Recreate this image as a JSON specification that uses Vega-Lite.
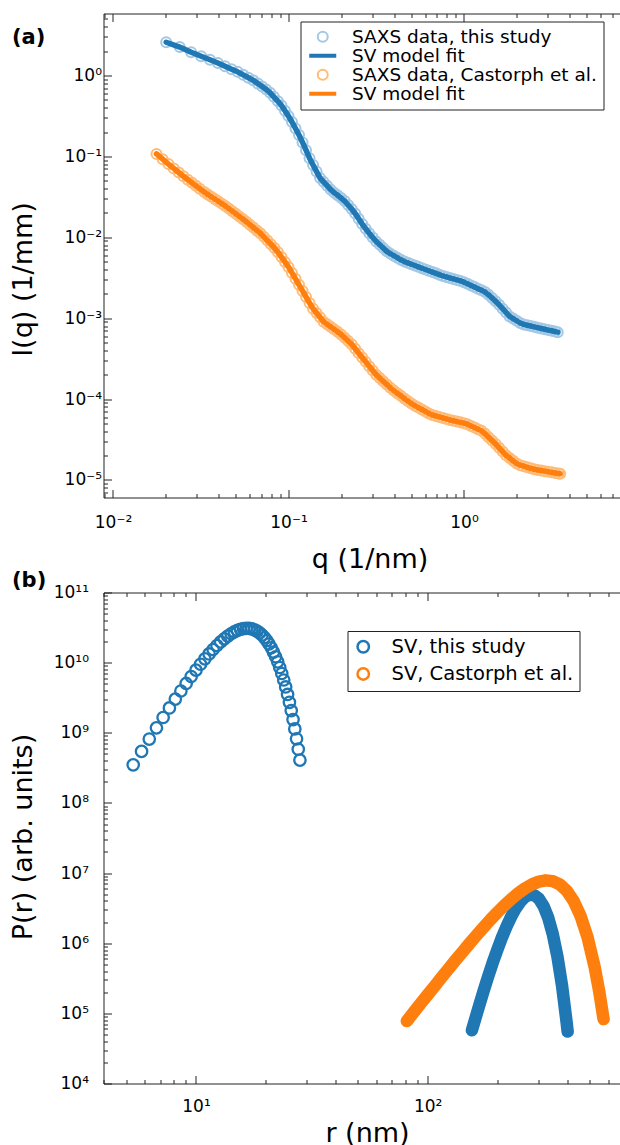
{
"$schema": "https://vega.github.io/schema/vega-lite/v6.json",
"background": "white",
"padding": {"left": 9.5, "top": 9.5, "right": 0, "bottom": 0},
"config": {
 "font": "DejaVu Sans",
 "view": {"stroke": null},
 "axis": {"labelFont": "DejaVu Sans", "titleFont": "DejaVu Sans", "labelFontSize": 17, "titleFontSize": 27, "titleFontWeight": "normal", "labelColor": "#000", "titleColor": "#000", "domainColor": "#222", "tickColor": "#222", "grid": false, "labelOverlap": false, "labelFlush": false, "labelBound": false, "tickWidth": 1, "domainWidth": 1},
 "legend": {"labelFont": "DejaVu Sans", "labelColor": "#000", "labelLimit": 400}
},
"datasets": {
 "saxs": [
  {"s":"b","q":0.0201,"I":2.576},{"s":"b","q":0.0240,"I":2.244},{"s":"b","q":0.0279,"I":1.935},{"s":"b","q":0.0318,"I":1.728},{"s":"b","q":0.0357,"I":1.565},{"s":"b","q":0.0396,"I":1.424},{"s":"b","q":0.0435,"I":1.300},{"s":"b","q":0.0474,"I":1.198},{"s":"b","q":0.0513,"I":1.110},{"s":"b","q":0.0552,"I":1.019},{"s":"b","q":0.0591,"I":0.9408},{"s":"b","q":0.0630,"I":0.8710},{"s":"b","q":0.0669,"I":0.7947},{"s":"b","q":0.0708,"I":0.7291},{"s":"b","q":0.0747,"I":0.6720},{"s":"b","q":0.0786,"I":0.6107},{"s":"b","q":0.0825,"I":0.5446},
  {"s":"b","q":0.08710,"I":0.4797},{"s":"b","q":0.09120,"I":0.4247},{"s":"b","q":0.09550,"I":0.3657},{"s":"b","q":0.1000,"I":0.3148},{"s":"b","q":0.10471,"I":0.2661},{"s":"b","q":0.10965,"I":0.2214},{"s":"b","q":0.11482,"I":0.1841},{"s":"b","q":0.12023,"I":0.1490},{"s":"b","q":0.12589,"I":0.1192},{"s":"b","q":0.13183,"I":0.09507},{"s":"b","q":0.13804,"I":0.07818},{"s":"b","q":0.14454,"I":0.06488},{"s":"b","q":0.15136,"I":0.05397},{"s":"b","q":0.15849,"I":0.04843},{"s":"b","q":0.16596,"I":0.04346},{"s":"b","q":0.17378,"I":0.03892},{"s":"b","q":0.18197,"I":0.03565},{"s":"b","q":0.19055,"I":0.03304},{"s":"b","q":0.19953,"I":0.03056},{"s":"b","q":0.20893,"I":0.02806},{"s":"b","q":0.21878,"I":0.02506},{"s":"b","q":0.22909,"I":0.02239},{"s":"b","q":0.23988,"I":0.01968},{"s":"b","q":0.25119,"I":0.01691},{"s":"b","q":0.26303,"I":0.01456},{"s":"b","q":0.27542,"I":0.01274},{"s":"b","q":0.28840,"I":0.01125},{"s":"b","q":0.30200,"I":0.009933},{"s":"b","q":0.31623,"I":0.008853},{"s":"b","q":0.33113,"I":0.008074},{"s":"b","q":0.34674,"I":0.007347},{"s":"b","q":0.36308,"I":0.006700},{"s":"b","q":0.38019,"I":0.006281},{"s":"b","q":0.39811,"I":0.005931},{"s":"b","q":0.41687,"I":0.005599},{"s":"b","q":0.43652,"I":0.005273},{"s":"b","q":0.45709,"I":0.005012},{"s":"b","q":0.47863,"I":0.004831},{"s":"b","q":0.50119,"I":0.004646},{"s":"b","q":0.52481,"I":0.004478},{"s":"b","q":0.54954,"I":0.004316},{"s":"b","q":0.57544,"I":0.004150},{"s":"b","q":0.60256,"I":0.004000},{"s":"b","q":0.63096,"I":0.003856},{"s":"b","q":0.66069,"I":0.003716},{"s":"b","q":0.69183,"I":0.003582},{"s":"b","q":0.72444,"I":0.003452},{"s":"b","q":0.75858,"I":0.003327},{"s":"b","q":0.79433,"I":0.003237},{"s":"b","q":0.83176,"I":0.003141},{"s":"b","q":0.87096,"I":0.003056},{"s":"b","q":0.91201,"I":0.002972},{"s":"b","q":0.95499,"I":0.002891},{"s":"b","q":1.0,"I":0.002787},{"s":"b","q":1.0471,"I":0.002661},{"s":"b","q":1.0965,"I":0.002542},{"s":"b","q":1.1482,"I":0.002427},{"s":"b","q":1.2023,"I":0.002313},{"s":"b","q":1.2589,"I":0.002208},{"s":"b","q":1.3183,"I":0.002104},{"s":"b","q":1.3804,"I":0.001946},{"s":"b","q":1.4454,"I":0.001771},{"s":"b","q":1.5136,"I":0.001615},{"s":"b","q":1.5849,"I":0.001466},{"s":"b","q":1.6596,"I":0.001312},{"s":"b","q":1.7378,"I":0.001175},{"s":"b","q":1.8197,"I":0.001052},{"s":"b","q":1.9055,"I":0.0009888},{"s":"b","q":1.9953,"I":0.0009292},{"s":"b","q":2.0893,"I":0.0008730},{"s":"b","q":2.1878,"I":0.0008376},{"s":"b","q":2.2909,"I":0.0008187},{"s":"b","q":2.3988,"I":0.0007999},{"s":"b","q":2.5119,"I":0.0007818},{"s":"b","q":2.6303,"I":0.0007639},{"s":"b","q":2.7542,"I":0.0007466},{"s":"b","q":2.8840,"I":0.0007296},{"s":"b","q":3.0200,"I":0.0007130},{"s":"b","q":3.1623,"I":0.0006984},{"s":"b","q":3.3113,"I":0.0006825},{"s":"b","q":3.42,"I":0.0006716},
  {"s":"o","q":0.0177,"I":0.1074},{"s":"o","q":0.0192,"I":0.09249},{"s":"o","q":0.0207,"I":0.08037},{"s":"o","q":0.0222,"I":0.07098},{"s":"o","q":0.0237,"I":0.06324},{"s":"o","q":0.0252,"I":0.05677},{"s":"o","q":0.0267,"I":0.05154},{"s":"o","q":0.0282,"I":0.04711},{"s":"o","q":0.0297,"I":0.04326},{"s":"o","q":0.0312,"I":0.03990},
  {"s":"o","q":0.033113,"I":0.03623},{"s":"o","q":0.034674,"I":0.03389},{"s":"o","q":0.036308,"I":0.03170},{"s":"o","q":0.038019,"I":0.02972},{"s":"o","q":0.039811,"I":0.02787},{"s":"o","q":0.041687,"I":0.02607},{"s":"o","q":0.043652,"I":0.02444},{"s":"o","q":0.045709,"I":0.02265},{"s":"o","q":0.047863,"I":0.02104},{"s":"o","q":0.050119,"I":0.01955},{"s":"o","q":0.052481,"I":0.01812},{"s":"o","q":0.054954,"I":0.01683},{"s":"o","q":0.057544,"I":0.01556},{"s":"o","q":0.060256,"I":0.01432},{"s":"o","q":0.063096,"I":0.01321},{"s":"o","q":0.066069,"I":0.01217},{"s":"o","q":0.069183,"I":0.01122},{"s":"o","q":0.072444,"I":0.01012},{"s":"o","q":0.075858,"I":0.009100},{"s":"o","q":0.079433,"I":0.008205},{"s":"o","q":0.083176,"I":0.007381},{"s":"o","q":0.087096,"I":0.006547},{"s":"o","q":0.091201,"I":0.005690},{"s":"o","q":0.095499,"I":0.004956},{"s":"o","q":0.1,"I":0.004296},{"s":"o","q":0.10471,"I":0.003623},{"s":"o","q":0.10965,"I":0.003063},{"s":"o","q":0.11482,"I":0.002583},{"s":"o","q":0.12023,"I":0.002173},{"s":"o","q":0.12589,"I":0.001828},{"s":"o","q":0.13183,"I":0.001539},{"s":"o","q":0.13804,"I":0.001312},{"s":"o","q":0.14454,"I":0.001159},{"s":"o","q":0.15136,"I":0.001026},{"s":"o","q":0.15849,"I":9.059e-4},{"s":"o","q":0.16596,"I":8.396e-4},{"s":"o","q":0.17378,"I":7.836e-4},{"s":"o","q":0.18197,"I":7.296e-4},{"s":"o","q":0.19055,"I":6.794e-4},{"s":"o","q":0.19953,"I":6.281e-4},{"s":"o","q":0.20893,"I":5.729e-4},{"s":"o","q":0.21878,"I":5.213e-4},{"s":"o","q":0.22909,"I":4.754e-4},{"s":"o","q":0.23988,"I":4.198e-4},{"s":"o","q":0.25119,"I":3.699e-4},{"s":"o","q":0.26303,"I":3.267e-4},{"s":"o","q":0.27542,"I":2.884e-4},{"s":"o","q":0.28840,"I":2.547e-4},{"s":"o","q":0.30200,"I":2.250e-4},{"s":"o","q":0.31623,"I":2.005e-4},{"s":"o","q":0.33113,"I":1.824e-4},{"s":"o","q":0.34674,"I":1.664e-4},{"s":"o","q":0.36308,"I":1.514e-4},{"s":"o","q":0.38019,"I":1.377e-4},{"s":"o","q":0.39811,"I":1.274e-4},{"s":"o","q":0.41687,"I":1.181e-4},{"s":"o","q":0.43652,"I":1.097e-4},{"s":"o","q":0.45709,"I":1.019e-4},{"s":"o","q":0.47863,"I":9.443e-5},{"s":"o","q":0.50119,"I":8.792e-5},{"s":"o","q":0.52481,"I":8.299e-5},{"s":"o","q":0.54954,"I":7.854e-5},{"s":"o","q":0.57544,"I":7.432e-5},{"s":"o","q":0.60256,"I":7.032e-5},{"s":"o","q":0.63096,"I":6.638e-5},{"s":"o","q":0.66069,"I":6.354e-5},{"s":"o","q":0.69183,"I":6.182e-5},{"s":"o","q":0.72444,"I":6.012e-5},{"s":"o","q":0.75858,"I":5.836e-5},{"s":"o","q":0.79433,"I":5.677e-5},{"s":"o","q":0.83176,"I":5.521e-5},{"s":"o","q":0.87096,"I":5.397e-5},{"s":"o","q":0.91201,"I":5.273e-5},{"s":"o","q":0.95499,"I":5.154e-5},{"s":"o","q":1.0,"I":5.036e-5},{"s":"o","q":1.0471,"I":4.888e-5},{"s":"o","q":1.0965,"I":4.657e-5},{"s":"o","q":1.1482,"I":4.448e-5},{"s":"o","q":1.2023,"I":4.247e-5},{"s":"o","q":1.2589,"I":4.047e-5},{"s":"o","q":1.3183,"I":3.716e-5},{"s":"o","q":1.3804,"I":3.382e-5},{"s":"o","q":1.4454,"I":3.077e-5},{"s":"o","q":1.5136,"I":2.787e-5},{"s":"o","q":1.5849,"I":2.501e-5},{"s":"o","q":1.6596,"I":2.245e-5},{"s":"o","q":1.7378,"I":2.014e-5},{"s":"o","q":1.8197,"I":1.867e-5},{"s":"o","q":1.9055,"I":1.726e-5},{"s":"o","q":1.9953,"I":1.600e-5},{"s":"o","q":2.0893,"I":1.524e-5},{"s":"o","q":2.1878,"I":1.479e-5},{"s":"o","q":2.2909,"I":1.436e-5},{"s":"o","q":2.3988,"I":1.393e-5},{"s":"o","q":2.5119,"I":1.356e-5},{"s":"o","q":2.6303,"I":1.331e-5},{"s":"o","q":2.7542,"I":1.309e-5},{"s":"o","q":2.8840,"I":1.286e-5},{"s":"o","q":3.0200,"I":1.265e-5},{"s":"o","q":3.1623,"I":1.242e-5},{"s":"o","q":3.3113,"I":1.222e-5},{"s":"o","q":3.4674,"I":1.200e-5},{"s":"o","q":3.532,"I":1.192e-5}
 ],
 "prc": [
  {"r":5.36,"P":3.49e8},{"r":5.824,"P":5.43e8},{"r":6.288,"P":8.13e8},{"r":6.752,"P":1.175e9},{"r":7.216,"P":1.652e9},{"r":7.68,"P":2.259e9},{"r":8.144,"P":3.02e9},{"r":8.608,"P":3.945e9},{"r":9.072,"P":5.047e9},{"r":9.536,"P":6.339e9},{"r":10.0,"P":7.816e9},{"r":10.464,"P":9.48e9},{"r":10.928,"P":1.132e10},{"r":11.392,"P":1.33e10},{"r":11.856,"P":1.538e10},{"r":12.32,"P":1.754e10},{"r":12.784,"P":1.972e10},{"r":13.248,"P":2.188e10},{"r":13.712,"P":2.393e10},{"r":14.176,"P":2.582e10},{"r":14.64,"P":2.748e10},{"r":15.104,"P":2.884e10},{"r":15.568,"P":2.992e10},{"r":16.032,"P":3.062e10},{"r":16.496,"P":3.09e10},{"r":16.96,"P":3.076e10},{"r":17.424,"P":3.027e10},{"r":17.888,"P":2.938e10},{"r":18.352,"P":2.812e10},{"r":18.816,"P":2.655e10},{"r":19.28,"P":2.477e10},{"r":19.744,"P":2.275e10},{"r":20.208,"P":2.065e10},{"r":20.672,"P":1.845e10},{"r":21.136,"P":1.629e10},{"r":21.6,"P":1.416e10},{"r":22.064,"P":1.213e10},{"r":22.528,"P":1.026e10},{"r":22.992,"P":8.53e9},{"r":23.456,"P":7.0e9},{"r":23.92,"P":5.66e9},{"r":24.384,"P":4.5e9},{"r":24.848,"P":3.52e9},{"r":25.312,"P":2.72e9},{"r":25.776,"P":2.07e9},{"r":26.24,"P":1.545e9},{"r":26.704,"P":1.135e9},{"r":27.168,"P":8.2e8},{"r":27.632,"P":5.83e8},{"r":28.096,"P":4.08e8}
 ],
 "prb": [
  {"s":"b","r":155.2,"P":5.728e4},{"s":"b","r":158.5,"P":7.278e4},{"s":"b","r":166.0,"P":1.222e5},{"s":"b","r":173.8,"P":2.023e5},{"s":"b","r":182.0,"P":3.273e5},{"s":"b","r":190.5,"P":5.188e5},{"s":"b","r":199.5,"P":7.980e5},{"s":"b","r":208.9,"P":1.197e6},{"s":"b","r":218.8,"P":1.726e6},{"s":"b","r":229.1,"P":2.382e6},{"s":"b","r":239.9,"P":3.141e6},{"s":"b","r":251.2,"P":3.908e6},{"s":"b","r":263.0,"P":4.560e6},{"s":"b","r":275.4,"P":4.909e6},{"s":"b","r":288.4,"P":4.842e6},{"s":"b","r":302.0,"P":4.305e6},{"s":"b","r":316.2,"P":3.389e6},{"s":"b","r":331.1,"P":2.312e6},{"s":"b","r":346.7,"P":1.340e6},{"s":"b","r":363.1,"P":6.412e5},{"s":"b","r":380.2,"P":2.455e5},{"s":"b","r":398.1,"P":7.261e4},{"s":"b","r":401.8,"P":5.495e4},
  {"s":"o","r":81.28,"P":7.762e4},{"s":"o","r":87.10,"P":1.038e5},{"s":"o","r":93.33,"P":1.384e5},{"s":"o","r":100.0,"P":1.841e5},{"s":"o","r":107.2,"P":2.449e5},{"s":"o","r":114.8,"P":3.251e5},{"s":"o","r":123.0,"P":4.315e5},{"s":"o","r":131.8,"P":5.702e5},{"s":"o","r":141.3,"P":7.516e5},{"s":"o","r":151.4,"P":9.863e5},{"s":"o","r":162.2,"P":1.288e6},{"s":"o","r":173.8,"P":1.671e6},{"s":"o","r":186.2,"P":2.148e6},{"s":"o","r":199.5,"P":2.729e6},{"s":"o","r":213.8,"P":3.428e6},{"s":"o","r":229.1,"P":4.236e6},{"s":"o","r":245.5,"P":5.129e6},{"s":"o","r":263.0,"P":6.053e6},{"s":"o","r":281.8,"P":6.902e6},{"s":"o","r":302.0,"P":7.551e6},{"s":"o","r":323.6,"P":7.870e6},{"s":"o","r":346.7,"P":7.674e6},{"s":"o","r":371.5,"P":6.902e6},{"s":"o","r":398.1,"P":5.598e6},{"s":"o","r":426.6,"P":3.999e6},{"s":"o","r":457.1,"P":2.438e6},{"s":"o","r":489.8,"P":1.211e6},{"s":"o","r":524.8,"P":4.667e5},{"s":"o","r":549.5,"P":2.080e5},{"s":"o","r":574.1,"P":8.279e4}
 ]
},
"spacing": -5,
"resolve": {"scale": {"x": "independent", "y": "independent", "color": "independent", "shape": "independent"}, "legend": {"color": "independent", "shape": "independent"}},
"vconcat": [
 {
  "width": 516, "height": 484,
  "data": {"name": "saxs"},
  "resolve": {"axis": {"x": "independent", "y": "independent"}},
  "layer": [
   {"transform": [{"filter": "datum.s == 'b'"}],
    "mark": {"type": "point", "filled": false, "size": 100, "strokeWidth": 2, "opacity": 1},
    "encoding": {
     "x": {"field": "q", "type": "quantitative", "scale": {"type": "log", "domain": [0.008831, 7.691], "nice": false},
       "axis": {"values": [0.009,0.01,0.02,0.03,0.04,0.05,0.06,0.07,0.08,0.09,0.1,0.2,0.3,0.4,0.5,0.6,0.7,0.8,0.9,1,2,3,4,5,6,7],
        "labelExpr": "datum.value == 0.01 ? '10⁻²' : datum.value == 0.1 ? '10⁻¹' : datum.value == 1 ? '10⁰' : ''",
        "tickSize": {"condition": {"test": "indexof([0.01,0.1,1], datum.value) >= 0", "value": -8}, "value": -4},
        "labelPadding": 25, "title": "q (1/nm)", "titleX": 266, "titleY": 70.4, "titleBaseline": "alphabetic"}},
     "y": {"field": "I", "type": "quantitative", "scale": {"type": "log", "domain": [6.073e-6, 5.84], "nice": false},
       "axis": {"values": [7e-6,8e-6,9e-6,1e-5,2e-5,3e-5,4e-5,5e-5,6e-5,7e-5,8e-5,9e-5,1e-4,2e-4,3e-4,4e-4,5e-4,6e-4,7e-4,8e-4,9e-4,0.001,0.002,0.003,0.004,0.005,0.006,0.007,0.008,0.009,0.01,0.02,0.03,0.04,0.05,0.06,0.07,0.08,0.09,0.1,0.2,0.3,0.4,0.5,0.6,0.7,0.8,0.9,1,2,3,4,5],
        "labelExpr": "datum.value == 1 ? '10⁰' : datum.value == 0.1 ? '10⁻¹' : datum.value == 0.01 ? '10⁻²' : datum.value == 0.001 ? '10⁻³' : datum.value == 0.0001 ? '10⁻⁴' : datum.value == 0.00001 ? '10⁻⁵' : ''",
        "tickSize": {"condition": {"test": "indexof([0.00001,0.0001,0.001,0.01,0.1,1], datum.value) >= 0", "value": -8}, "value": -4},
        "labelPadding": 10, "title": "I(q) (1/mm)", "titleX": -66, "titleY": 265.5, "titleBaseline": "bottom"}},
     "color": {"datum": "A", "type": "nominal", "scale": {"domain": ["A","B","C","D"], "range": ["#a3c8e4","#1f77b4","#ffbb78","#ff7f0e"]},
       "legend": {"title": null, "orient": "none", "legendX": 197, "legendY": 8, "strokeColor": "#222", "fillColor": "#fff", "padding": 6, "cornerRadius": 0,
        "labelFontSize": 18.5, "labelOffset": 20, "symbolOffset": 7, "symbolSize": 100, "symbolStrokeWidth": 2, "rowPadding": 0,
        "labelExpr": "datum.value == 'A' ? 'SAXS data, this study' : datum.value == 'C' ? 'SAXS data, Castorph et al.' : 'SV model fit'"}},
     "shape": {"datum": "A", "type": "nominal", "scale": {"domain": ["A","B","C","D"], "range": ["circle","M-2.5,-0.22H2.5V0.22H-2.5Z","circle","M-2.5,-0.22H2.5V0.22H-2.5Z"]},
       "legend": {"title": null, "orient": "none", "legendX": 197, "legendY": 8, "strokeColor": "#222", "fillColor": "#fff", "padding": 6, "cornerRadius": 0,
        "labelFontSize": 18.5, "labelOffset": 20, "symbolOffset": 7, "symbolSize": 100, "symbolStrokeWidth": 2, "rowPadding": 0,
        "labelExpr": "datum.value == 'A' ? 'SAXS data, this study' : datum.value == 'C' ? 'SAXS data, Castorph et al.' : 'SV model fit'"}}
    }},
   {"transform": [{"filter": "datum.s == 'b'"}],
    "mark": {"type": "line", "color": "#1f77b4", "strokeWidth": 5.5, "strokeCap": "round", "strokeJoin": "round"},
    "encoding": {
     "x": {"field": "q", "type": "quantitative",
       "axis": {"orient": "top", "labels": false, "title": null, "values": [0.009,0.01,0.02,0.03,0.04,0.05,0.06,0.07,0.08,0.09,0.1,0.2,0.3,0.4,0.5,0.6,0.7,0.8,0.9,1,2,3,4,5,6,7],
        "tickSize": {"condition": {"test": "indexof([0.01,0.1,1], datum.value) >= 0", "value": -8}, "value": -4}}},
     "y": {"field": "I", "type": "quantitative",
       "axis": {"orient": "left", "labels": false, "ticks": false, "domain": false, "title": "(a)", "titleX": -92, "titleY": 30.3, "titleAngle": 0, "titleAlign": "left", "titleBaseline": "alphabetic", "titleFontWeight": "bold", "titleFontSize": 21}}
    }},
   {"transform": [{"filter": "datum.s == 'o'"}],
    "mark": {"type": "point", "filled": false, "size": 100, "strokeWidth": 2, "opacity": 1},
    "encoding": {
     "x": {"field": "q", "type": "quantitative", "axis": null},
     "y": {"field": "I", "type": "quantitative", "axis": null},
     "color": {"datum": "C", "type": "nominal", "legend": null},
     "shape": {"datum": "C", "type": "nominal", "legend": null}
    }},
   {"transform": [{"filter": "datum.s == 'o'"}],
    "mark": {"type": "line", "color": "#ff7f0e", "strokeWidth": 5.5, "strokeCap": "round", "strokeJoin": "round"},
    "encoding": {
     "x": {"field": "q", "type": "quantitative", "axis": null},
     "y": {"field": "I", "type": "quantitative", "axis": null}
    }}
  ]
 },
 {
  "width": 516, "height": 491,
  "resolve": {"axis": {"x": "independent", "y": "independent"}},
  "layer": [
   {"data": {"name": "prc"},
    "mark": {"type": "point", "shape": "circle", "filled": false, "size": 130, "strokeWidth": 2.3, "opacity": 1},
    "encoding": {
     "x": {"field": "r", "type": "quantitative", "scale": {"type": "log", "domain": [3.99, 672.6], "nice": false},
       "axis": {"values": [4,5,6,7,8,9,10,20,30,40,50,60,70,80,90,100,200,300,400,500,600],
        "labelExpr": "datum.value == 10 ? '10¹' : datum.value == 100 ? '10²' : ''",
        "tickSize": {"condition": {"test": "indexof([10,100], datum.value) >= 0", "value": -8}, "value": -4},
        "labelPadding": 23, "title": "r (nm)", "titleX": 263.5, "titleY": 58, "titleBaseline": "alphabetic"}},
     "y": {"field": "P", "type": "quantitative", "scale": {"type": "log", "domain": [1e4, 1e11], "nice": false},
       "axis": {"values": [1e4,2e4,3e4,4e4,5e4,6e4,7e4,8e4,9e4,1e5,2e5,3e5,4e5,5e5,6e5,7e5,8e5,9e5,1e6,2e6,3e6,4e6,5e6,6e6,7e6,8e6,9e6,1e7,2e7,3e7,4e7,5e7,6e7,7e7,8e7,9e7,1e8,2e8,3e8,4e8,5e8,6e8,7e8,8e8,9e8,1e9,2e9,3e9,4e9,5e9,6e9,7e9,8e9,9e9,1e10,2e10,3e10,4e10,5e10,6e10,7e10,8e10,9e10,1e11],
        "labelExpr": "datum.value == 10000 ? '10⁴' : datum.value == 100000 ? '10⁵' : datum.value == 1000000 ? '10⁶' : datum.value == 10000000 ? '10⁷' : datum.value == 100000000 ? '10⁸' : datum.value == 1000000000 ? '10⁹' : datum.value == 10000000000 ? '10¹⁰' : datum.value == 100000000000 ? '10¹¹' : ''",
        "tickSize": {"condition": {"test": "indexof([10000,100000,1000000,10000000,100000000,1000000000,10000000000,100000000000], datum.value) >= 0", "value": -8}, "value": -4},
        "labelPadding": 23, "title": "P(r) (arb. units)", "titleX": -66, "titleY": 244, "titleBaseline": "bottom"}},
     "color": {"datum": "SV, this study", "scale": {"domain": ["SV, this study", "SV, Castorph et al."], "range": ["#1f77b4", "#ff7f0e"]},
       "legend": {"title": null, "orient": "none", "legendX": 244, "legendY": 38.5, "strokeColor": "#222", "fillColor": "#fff", "padding": 6, "cornerRadius": 0,
        "labelFontSize": 19.5, "labelOffset": 18.5, "symbolOffset": 0, "symbolSize": 130, "rowPadding": 5.2, "symbolStrokeWidth": 2.5, "symbolType": "circle"}}
    }},
   {"data": {"name": "prb"}, "transform": [{"filter": "datum.s == 'b'"}],
    "mark": {"type": "line", "color": "#1f77b4", "strokeWidth": 12.5, "strokeCap": "round", "strokeJoin": "round"},
    "encoding": {
     "x": {"field": "r", "type": "quantitative",
       "axis": {"orient": "top", "labels": false, "title": null, "values": [4,5,6,7,8,9,10,20,30,40,50,60,70,80,90,100,200,300,400,500,600],
        "tickSize": {"condition": {"test": "indexof([10,100], datum.value) >= 0", "value": -8}, "value": -4}}},
     "y": {"field": "P", "type": "quantitative",
       "axis": {"orient": "left", "labels": false, "ticks": false, "domain": false, "title": "(b)", "titleX": -92, "titleY": -6.3, "titleAngle": 0, "titleAlign": "left", "titleBaseline": "alphabetic", "titleFontWeight": "bold", "titleFontSize": 21}}
    }},
   {"data": {"name": "prb"}, "transform": [{"filter": "datum.s == 'o'"}],
    "mark": {"type": "line", "color": "#ff7f0e", "strokeWidth": 12.5, "strokeCap": "round", "strokeJoin": "round"},
    "encoding": {
     "x": {"field": "r", "type": "quantitative", "axis": null},
     "y": {"field": "P", "type": "quantitative", "axis": null}
    }}
  ]
 }
]
}
